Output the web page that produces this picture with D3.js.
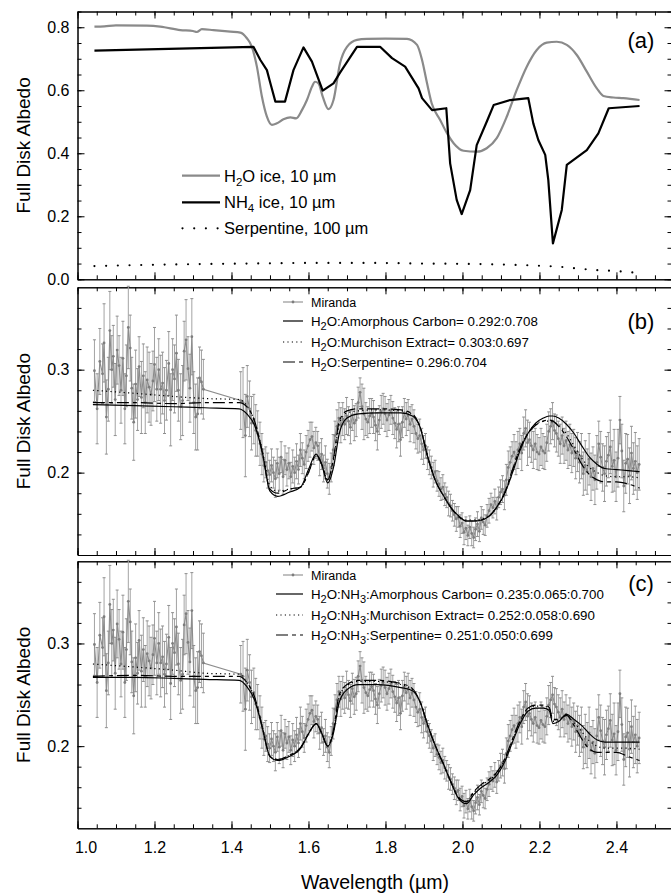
<!DOCTYPE html>
<html>
<head>
<meta charset="utf-8">
<script src="https://cdn.jsdelivr.net/npm/d3@7"></script>
<style>
  body { margin: 0; background: #fff; }
  svg { display: block; font-family: "Liberation Sans", Arial, Helvetica, sans-serif; }
</style>
</head>
<body>
<script>
// ---- panel (a): laboratory spectra ----
const h2oWl  = [1.044,1.07,1.10,1.18,1.215,1.267,1.30,1.31,1.323,1.353,1.397,1.423,1.44,1.453,1.466,1.479,1.492,1.505,1.518,1.535,1.553,1.568,1.583,1.596,1.609,1.617,1.626,1.637,1.652,1.665,1.682,1.70,1.726,1.752,1.80,1.856,1.882,1.895,1.908,1.92,1.942,1.96,1.977,2.003,2.037,2.063,2.089,2.115,2.141,2.167,2.193,2.219,2.245,2.271,2.297,2.323,2.349,2.366,2.392,2.418,2.46];
const h2oAlb = [.802,.803,.806,.805,.802,.791,.788,.785,.794,.791,.786,.783,.765,.738,.675,.58,.516,.49,.495,.508,.514,.511,.537,.569,.611,.627,.622,.58,.54,.569,.686,.738,.76,.763,.764,.763,.744,.696,.622,.559,.506,.463,.432,.408,.405,.416,.448,.516,.601,.675,.728,.751,.754,.744,.712,.659,.606,.582,.577,.575,.569];

const nh4Wl  = [1.044,1.457,1.475,1.492,1.50,1.514,1.539,1.561,1.587,1.609,1.637,1.665,1.682,1.726,1.786,1.817,1.851,1.886,1.895,1.921,1.958,1.968,1.985,1.998,2.02,2.037,2.063,2.081,2.124,2.171,2.184,2.197,2.215,2.223,2.235,2.258,2.271,2.323,2.353,2.38,2.46];
const nh4Alb = [.726,.738,.696,.664,.627,.564,.564,.664,.736,.691,.599,.622,.656,.738,.738,.702,.675,.606,.575,.537,.543,.368,.252,.207,.283,.426,.50,.553,.569,.575,.495,.442,.395,.315,.114,.22,.363,.41,.463,.543,.55];

const serpWl  = [1.044,1.15,1.3,1.45,1.6,1.75,1.9,2.0,2.1,2.2,2.25,2.3,2.35,2.4,2.45];
const serpAlb = [.042,.045,.048,.05,.052,.052,.05,.049,.047,.043,.04,.034,.029,.026,.021];

// ---- Miranda spectrum (panels b and c) ----
const mirWl = [
  1.044,1.051,1.058,1.065,1.069,1.075,1.080,1.084,1.089,1.093,1.098,1.103,1.108,1.113,1.118,1.123,1.127,1.132,1.137,1.141,
  1.146,1.151,1.156,1.160,1.166,1.171,1.176,1.181,1.186,1.191,1.196,1.200,1.206,1.211,1.216,1.221,1.226,1.231,1.237,1.242,
  1.247,1.252,1.257,1.262,1.268,1.273,1.277,1.282,1.287,1.292,1.297,1.302,1.307,1.312,1.317,1.322,1.327,
  1.424,1.430,1.436,1.441,1.447,1.452,1.458,1.463,1.468,1.474,1.479,
  1.484,1.489,1.494,1.499,1.504,1.509,1.514,1.519,1.524,1.529,1.534,1.539,1.544,1.549,1.554,1.559,1.564,1.569,1.574,1.579,
  1.584,1.589,1.594,1.599,1.604,1.609,1.614,1.619,1.624,1.629,1.634,1.639,1.644,1.649,1.654,1.659,
  1.664,1.669,1.674,1.679,1.684,1.689,1.694,1.699,1.704,1.709,1.714,1.719,1.724,1.729,1.734,1.739,1.744,1.749,1.754,1.759,
  1.764,1.769,1.774,1.779,1.784,1.789,1.794,1.799,1.804,1.809,1.814,1.819,1.824,1.829,1.834,1.839,1.844,1.849,1.854,1.859,
  1.864,1.869,1.874,1.879,1.884,1.889,1.894,1.899,
  1.904,1.909,1.914,1.919,1.924,1.929,1.934,1.939,1.944,1.949,1.954,1.959,1.964,1.969,1.974,1.979,1.984,1.989,1.994,1.999,
  2.004,2.009,2.014,2.019,2.024,2.029,2.034,2.039,2.044,2.049,2.054,2.059,2.064,2.069,2.074,2.079,2.084,2.089,2.094,2.099,
  2.104,2.109,2.114,2.119,2.124,2.129,2.134,2.139,2.144,2.149,2.154,2.159,2.164,2.169,2.174,2.179,2.184,2.189,2.194,2.199,
  2.204,2.209,2.214,2.219,2.224,2.229,2.234,2.239,2.244,2.249,2.254,2.259,2.264,2.269,2.274,2.279,2.284,2.289,2.294,2.299,
  2.304,2.309,2.314,2.319,2.324,2.329,2.334,2.339,2.344,2.349,2.354,2.359,2.364,2.369,2.374,2.379,2.384,2.389,2.394,2.399,
  2.404,2.409,2.414,2.419,2.424,2.429,2.434,2.439,2.444,2.449,2.454,2.459];
const mirAlb = [
  .299,.262,.308,.296,.326,.254,.281,.338,.300,.313,.271,.319,.304,.280,.311,.262,.294,.341,.321,.282,
  .249,.286,.271,.303,.273,.294,.268,.290,.283,.276,.289,.305,.281,.300,.281,.287,.270,.280,.306,.261,
  .300,.291,.316,.280,.264,.270,.318,.329,.301,.282,.332,.268,.254,.257,.292,.288,.281,
  .270,.268,.236,.274,.262,.248,.252,.241,.238,.228,.218,
  .207,.210,.202,.198,.207,.200,.194,.209,.199,.215,.196,.212,.203,.209,.196,.206,.200,.211,.203,.222,
  .214,.208,.220,.226,.232,.235,.224,.229,.226,.213,.218,.204,.210,.199,.194,.205,
  .222,.236,.245,.253,.246,.252,.247,.255,.250,.244,.256,.248,.251,.268,.278,.264,.257,.252,.249,.255,
  .258,.254,.246,.240,.251,.259,.262,.257,.251,.256,.261,.253,.248,.242,.247,.232,.249,.258,.252,.256,
  .247,.252,.245,.238,.233,.236,.228,.222,
  .226,.214,.210,.205,.198,.201,.192,.189,.184,.186,.179,.176,.170,.168,.163,.159,.155,.157,.148,.151,
  .142,.146,.139,.147,.141,.137,.145,.150,.143,.156,.152,.149,.158,.163,.169,.166,.172,.165,.176,.181,
  .184,.178,.193,.205,.210,.216,.220,.214,.222,.228,.219,.238,.243,.229,.232,.226,.222,.228,.220,.218,
  .225,.221,.219,.229,.240,.245,.250,.241,.238,.233,.228,.236,.226,.231,.222,.227,.219,.224,.214,.220,
  .210,.216,.199,.207,.201,.213,.196,.204,.193,.210,.228,.215,.205,.199,.211,.217,.225,.206,.212,.196,
  .214,.251,.221,.187,.209,.213,.197,.219,.204,.211,.200,.208];
// 1-sigma errors, thousandths of albedo
const mirErr = [
  30,34,32,29,38,36,31,38,33,30,35,33,29,32,36,34,30,40,32,30,
  37,33,30,29,35,31,30,32,34,30,29,36,31,30,33,30,32,29,31,35,
  30,33,37,30,32,34,29,39,31,33,37,30,32,35,30,31,29,
  28,34,40,30,27,26,24,25,22,21,20,
  16,15,17,14,16,15,18,14,16,15,17,14,16,15,14,16,15,17,14,16,
  15,14,16,15,17,14,16,15,14,16,15,13,16,14,15,14,
  15,14,16,15,17,16,15,18,14,16,15,17,16,15,14,22,25,16,15,17,
  14,16,15,18,14,16,15,17,16,15,14,16,15,18,17,16,15,14,16,15,
  17,14,16,15,14,16,15,14,
  12,11,12,11,12,11,10,12,11,12,11,10,12,11,10,11,12,10,11,10,
  12,11,10,11,12,10,11,12,10,11,12,10,11,12,11,10,12,11,10,12,
  13,14,15,16,15,14,17,16,18,15,17,16,18,22,17,16,18,15,17,16,
  18,17,16,18,19,17,18,16,18,17,19,18,17,19,18,20,19,18,20,19,
  20,22,21,24,22,25,23,21,24,26,22,25,23,27,24,22,26,25,30,24,
  28,23,26,25,29,24,27,26,25,28,26,25];

// ---- mixture models ----
const modelWl = [1.04,1.15,1.25,1.33,1.42,1.44,1.46,1.48,1.50,1.52,1.55,1.58,1.60,1.62,1.635,1.65,1.665,1.68,1.70,1.73,1.78,1.84,1.87,1.89,1.91,1.93,1.95,1.97,1.99,2.01,2.03,2.05,2.07,2.09,2.11,2.13,2.15,2.17,2.19,2.21,2.225,2.235,2.25,2.27,2.29,2.31,2.33,2.35,2.37,2.40,2.43,2.46];
const bAmC   = [.266,.265,.264,.263,.262,.257,.246,.220,.182,.177,.181,.186,.203,.218,.207,.190,.205,.238,.253,.257,.258,.258,.255,.244,.215,.192,.178,.166,.158,.153,.153,.154,.158,.167,.180,.200,.222,.238,.248,.253,.255,.255,.253,.247,.238,.226,.215,.208,.204,.203,.202,.201];
const bMurch = [.280,.277,.274,.272,.271,.265,.250,.222,.187,.182,.184,.186,.200,.216,.207,.193,.212,.247,.258,.260,.261,.260,.256,.244,.215,.192,.178,.166,.158,.154,.154,.155,.158,.167,.180,.202,.224,.238,.247,.250,.250,.249,.246,.238,.226,.214,.205,.200,.197,.196,.196,.195];
const bSerp  = [.268,.268,.267,.268,.268,.264,.250,.220,.184,.180,.184,.186,.200,.217,.208,.193,.214,.250,.260,.262,.262,.261,.257,.244,.215,.192,.178,.166,.157,.153,.153,.154,.158,.167,.181,.203,.224,.238,.246,.250,.251,.250,.245,.235,.222,.208,.198,.193,.191,.191,.189,.185];
const cAmC   = [.267,.267,.266,.265,.264,.258,.245,.218,.190,.186,.190,.198,.212,.222,.212,.200,.213,.243,.255,.260,.260,.257,.254,.243,.220,.200,.183,.165,.149,.144,.153,.160,.165,.172,.185,.204,.222,.234,.237,.237,.235,.222,.224,.231,.226,.220,.212,.206,.204,.204,.204,.204];
const cMurch = [.280,.277,.274,.271,.270,.262,.247,.219,.190,.187,.191,.199,.212,.222,.212,.200,.215,.248,.259,.263,.263,.260,.255,.243,.220,.200,.183,.165,.150,.146,.155,.162,.167,.174,.187,.206,.224,.236,.239,.239,.237,.224,.225,.230,.223,.214,.205,.200,.198,.198,.198,.197];
const cSerp  = [.268,.269,.268,.268,.268,.262,.248,.219,.190,.187,.191,.199,.212,.222,.212,.200,.216,.250,.260,.264,.264,.261,.256,.243,.220,.200,.183,.165,.150,.146,.156,.163,.168,.175,.188,.207,.225,.237,.240,.240,.238,.226,.226,.230,.220,.207,.197,.194,.194,.194,.190,.186];

// ---- ticks and labels ----
const xTickLabels = [1.0,1.2,1.4,1.6,1.8,2.0,2.2,2.4];
const aTickLabels = [0.0,0.2,0.4,0.6,0.8];
const bcTickLabels = [0.2,0.3];
const legendA = ["H_2O ice, 10 µm", "NH_4 ice, 10 µm", "Serpentine, 100 µm"];
const legendB = ["Miranda", "H_2O:Amorphous Carbon= 0.292:0.708", "H_2O:Murchison Extract= 0.303:0.697", "H_2O:Serpentine= 0.296:0.704"];
const legendC = ["Miranda", "H_2O:NH_3:Amorphous Carbon= 0.235:0.065:0.700", "H_2O:NH_3:Murchison Extract= 0.252:0.058:0.690", "H_2O:NH_3:Serpentine= 0.251:0.050:0.699"];

const W = 671, H = 893;
const xLeft = 77.5, xRight = 671.5;
const svg = d3.select("body").append("svg").attr("width", W).attr("height", H);

const x = d3.scaleLinear().domain([1.0, 2.543]).range([xLeft, xRight]);
const pA = {top: 11.5, bottom: 279.3}, pB = {top: 287.3, bottom: 555}, pC = {top: 561.3, bottom: 828.3};
const yA = d3.scaleLinear().domain([0, 0.85]).range([pA.bottom, pA.top]);
const yB = d3.scaleLinear().domain([0.12, 0.38]).range([pB.bottom, pB.top]);
const yC = d3.scaleLinear().domain([0.12, 0.38]).range([pC.bottom, pC.top]);

const GRAY = "#8a8a8a";
const fmt1 = d3.format(".1f");

// text with single-character subscripts written as _X
function richText(t, str, subSize, shift) {
  const parts = str.split(/_(\w)/);
  let down = false;
  parts.forEach((p, i) => {
    if (i % 2 === 1) {
      t.append("tspan").attr("dy", shift).attr("font-size", subSize).text(p);
      down = true;
    } else if (p !== "") {
      const ts = t.append("tspan").text(p);
      if (down) { ts.attr("dy", -shift); down = false; }
    }
  });
}

function styleAxis(g) {
  g.selectAll("text").attr("font-size", 16).attr("fill", "#000")
    .attr("font-family", '"Liberation Sans", Arial, sans-serif');
  g.selectAll("line, path").attr("stroke", "#000").attr("stroke-width", 1);
}

// frame with inward ticks on all four sides
function frame(p, y, yMajor, yMinor, xLabels) {
  const xMinor = d3.range(1.0, 2.56, 0.05);
  const sides = [
    [d3.axisBottom, `translate(0,${p.bottom})`, x, xMinor, xTickLabels, xLabels, 13],
    [d3.axisTop, `translate(0,${p.top})`, x, xMinor, xTickLabels, false, 0],
    [d3.axisLeft, `translate(${xLeft},0)`, y, yMinor, yMajor, true, 8],
    [d3.axisRight, `translate(${xRight},0)`, y, yMinor, yMajor, false, 0]
  ];
  sides.forEach(([ax, tr, sc, minor, major, lab, pad]) => {
    svg.append("g").attr("transform", tr)
      .call(ax(sc).tickValues(minor).tickSizeInner(-4).tickSizeOuter(0).tickFormat(""))
      .call(styleAxis);
    const g = svg.append("g").attr("transform", tr)
      .call(ax(sc).tickValues(major).tickSizeInner(-7).tickSizeOuter(0)
        .tickPadding(pad).tickFormat(lab ? fmt1 : ""))
      .call(styleAxis);
    if (lab && ax === d3.axisBottom) {
      g.selectAll(".tick text").filter(d => d === 1.0).attr("dx", 8);
    }
  });
}

function yTitle(p) {
  svg.append("text")
    .attr("transform", `translate(23,${(p.top + p.bottom) / 2}) rotate(-90)`)
    .attr("text-anchor", "middle").attr("dy", "0.35em")
    .attr("font-size", 19).text("Full Disk Albedo");
}

function panelTag(label, cy) {
  svg.append("text").attr("x", 641).attr("y", cy).attr("dy", "0.35em")
    .attr("text-anchor", "middle").attr("font-size", 22).text(label);
}

const zip = (xs, ys) => xs.map((v, i) => [v, ys[i]]);

// ================= panel (a) =================
frame(pA, yA, aTickLabels, d3.range(0, 0.851, 0.05), false);
yTitle(pA);
panelTag("(a)", 40);

const lineA = d3.line().x(d => x(d[0])).y(d => yA(d[1]));
svg.append("path").datum(zip(h2oWl, h2oAlb))
  .attr("d", lineA.curve(d3.curveMonotoneX)).attr("fill", "none")
  .attr("stroke", GRAY).attr("stroke-width", 2.2);
svg.append("path").datum(zip(nh4Wl, nh4Alb))
  .attr("d", d3.line().x(d => x(d[0])).y(d => yA(d[1]))).attr("fill", "none")
  .attr("stroke", "#000").attr("stroke-width", 2.2).attr("stroke-linejoin", "round");
svg.append("path").datum(zip(serpWl, serpAlb))
  .attr("d", d3.line().x(d => x(d[0])).y(d => yA(d[1])).curve(d3.curveMonotoneX))
  .attr("fill", "none").attr("stroke", "#000").attr("stroke-width", 2.2)
  .attr("stroke-linecap", "round").attr("stroke-dasharray", "0,11.7");

const legARows = [175.7, 202.3, 228.3];
const legAStyles = [
  {stroke: GRAY, dash: null, cap: "butt"},
  {stroke: "#000", dash: null, cap: "butt"},
  {stroke: "#000", dash: "0,11.7", cap: "round"}
];
legendA.forEach((lab, i) => {
  const s = legAStyles[i];
  svg.append("line").attr("x1", i === 2 ? 182.5 : 182).attr("x2", 220)
    .attr("y1", legARows[i]).attr("y2", legARows[i])
    .attr("stroke", s.stroke).attr("stroke-width", 2.2)
    .attr("stroke-linecap", s.cap).attr("stroke-dasharray", s.dash);
  const t = svg.append("text").attr("x", 224).attr("y", legARows[i] + 5.8).attr("font-size", 16.5);
  richText(t, lab, 11.5, 4);
});

// ================= panels (b) and (c) =================
const mir = mirWl.map((w, i) => ({w: w, a: mirAlb[i], e: (mirErr[i] || 15) / 1000}))
  .filter(d => d.a !== undefined);

const modelStyles = [
  {dash: null},
  {dash: "1.2,3.2"},
  {dash: "12,4,4,4"}
];

function spectrumPanel(p, y, models, legend, legRows, tag, tagY, lineStart) {
  frame(p, y, bcTickLabels, d3.range(0.14, 0.37, 0.02), p === pC);
  yTitle(p);
  panelTag(tag, tagY);

  const g = svg.append("g");
  // error bars
  g.selectAll("line.err").data(mir).enter().append("line")
    .attr("x1", d => x(d.w)).attr("x2", d => x(d.w))
    .attr("y1", d => y(d.a - d.e)).attr("y2", d => y(d.a + d.e))
    .attr("stroke", "#a3a3a3").attr("stroke-width", 1);
  [-1, 1].forEach(s => {
    g.selectAll(null).data(mir).enter().append("line")
      .attr("x1", d => x(d.w) - 1.5).attr("x2", d => x(d.w) + 1.5)
      .attr("y1", d => y(d.a + s * d.e)).attr("y2", d => y(d.a + s * d.e))
      .attr("stroke", "#8f8f8f").attr("stroke-width", 1);
  });
  // connecting line and points
  g.append("path").datum(mir)
    .attr("d", d3.line().x(d => x(d.w)).y(d => y(d.a)))
    .attr("fill", "none").attr("stroke", "#8c8c8c").attr("stroke-width", 1.1);
  g.selectAll("circle").data(mir).enter().append("circle")
    .attr("cx", d => x(d.w)).attr("cy", d => y(d.a)).attr("r", 1.4)
    .attr("fill", "#7d7d7d");

  // model fits
  models.forEach((vals, k) => {
    svg.append("path").datum(zip(modelWl, vals))
      .attr("d", d3.line().x(d => x(d[0])).y(d => y(d[1])).curve(d3.curveMonotoneX))
      .attr("fill", "none").attr("stroke", "#000").attr("stroke-width", 1.2)
      .attr("stroke-dasharray", modelStyles[k].dash);
  });

  // legend
  legend.forEach((lab, i) => {
    const ry = legRows[i];
    if (i === 0) {
      svg.append("line").attr("x1", 283).attr("x2", 303).attr("y1", ry).attr("y2", ry)
        .attr("stroke", "#8c8c8c").attr("stroke-width", 1.1);
      svg.append("circle").attr("cx", 293).attr("cy", ry).attr("r", 1.4).attr("fill", "#7d7d7d");
      svg.append("text").attr("x", 311).attr("y", ry + 4.5).attr("font-size", 12.5).text(lab);
    } else {
      svg.append("line").attr("x1", lineStart).attr("x2", 303).attr("y1", ry).attr("y2", ry)
        .attr("stroke", "#000").attr("stroke-width", 1.2)
        .attr("stroke-dasharray", modelStyles[i - 1].dash);
      const t = svg.append("text").attr("x", 311).attr("y", ry + 4.7).attr("font-size", 13.3);
      richText(t, lab, 11, 4);
    }
  });
}

spectrumPanel(pB, yB, [bAmC, bMurch, bSerp], legendB, [302, 321, 342, 362], "(b)", 321.5, 283);
spectrumPanel(pC, yC, [cAmC, cMurch, cSerp], legendC, [575, 594, 615, 635], "(c)", 583, 276);

// x-axis title
svg.append("text").attr("x", 375).attr("y", 889).attr("text-anchor", "middle")
  .attr("font-size", 19.5).text("Wavelength (µm)");
</script>
</body>
</html>
